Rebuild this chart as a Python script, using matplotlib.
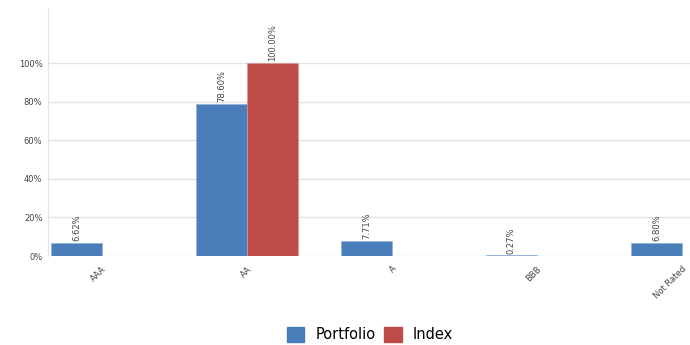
import numpy as np
import matplotlib
matplotlib.use('Agg')
import matplotlib.pyplot as plt

categories = ['AAA', 'AA', 'A', 'BBB', 'Not Rated']
portfolio = [6.62, 78.60, 7.71, 0.27, 6.80]
index_vals = [0.0, 100.00, 0.0, 0.0, 0.0]
yticks = [0, 20, 40, 60, 80, 100]

blue = '#4a7ebb'
red = '#be4b48'

fig = plt.figure(figsize=(6.9, 3.45), dpi=100)
ax = fig.add_axes([48 / 690, 1 - 256 / 345, 1 - 48 / 690, 248 / 345])

x = np.arange(len(categories))
w = 0.352
ax.bar(x - w / 2, portfolio, w, color=blue, edgecolor='#8fb0d8', linewidth=0.5, zorder=3)
ax.bar(x + w / 2, index_vals, w, color=red, edgecolor='#d99694', linewidth=0.5, zorder=3)

# value labels, only for non-zero bars
for xs, vals in [(x - w / 2, portfolio), (x + w / 2, index_vals)]:
    for xi, v in zip(xs, vals):
        if v > 0:
            ax.text(xi, v + 1.0, f'{v:.2f}%', rotation=90, ha='center', va='bottom',
                    fontsize=6, color='#444444')

ax.set_xlim(-0.372, 4.055)
ax.set_ylim(0, 128.5)
ax.set_yticks(yticks)
ax.set_yticklabels([f'{t}%' for t in yticks], fontsize=6, color='#444444')
ax.set_xticks(x)
ax.set_xticklabels(categories, rotation=45, ha='right', rotation_mode='anchor',
                   fontsize=6, color='#444444')
ax.tick_params(axis='both', length=0, pad=4)
ax.tick_params(axis='x', pad=6)
ax.grid(axis='y', color='#e3e3e3', linewidth=1, zorder=0)
for s in ['top', 'right', 'bottom']:
    ax.spines[s].set_visible(False)
ax.spines['left'].set_color('#e3e3e3')

handles = [plt.Rectangle((0, 0), 1, 1, color=blue), plt.Rectangle((0, 0), 1, 1, color=red)]
fig.legend(handles, ['Portfolio', 'Index'], loc='center', bbox_to_anchor=(0.536, 0.03),
           ncol=2, frameon=False, fontsize=10.5, handlelength=1.2, handleheight=1.2,
           handletextpad=0.75, columnspacing=0.6)

fig.savefig('out.png', dpi=100)
